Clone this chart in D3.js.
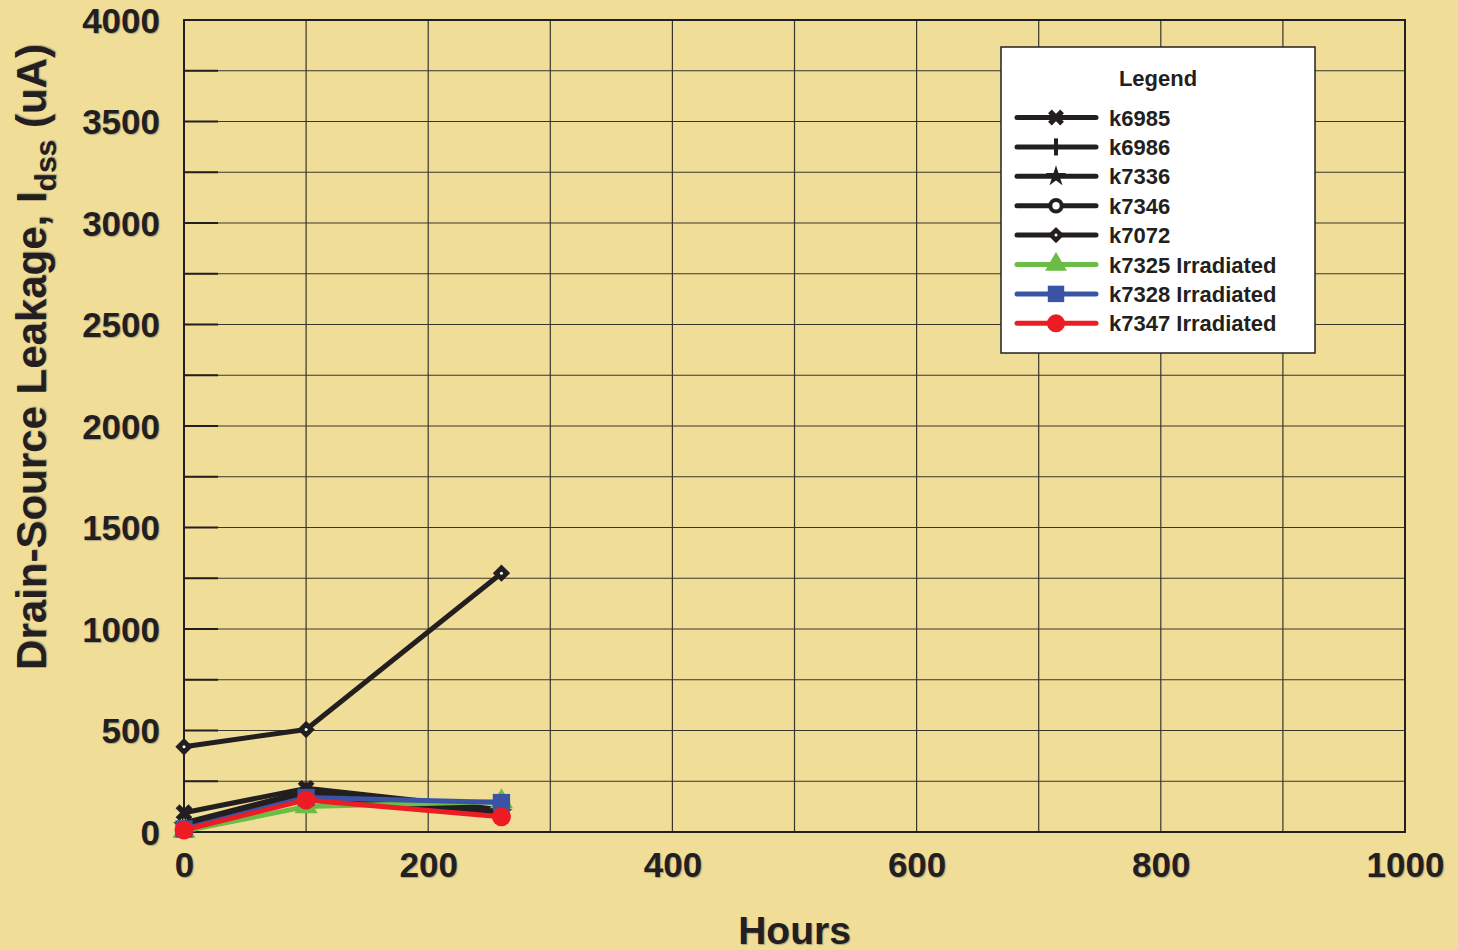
<!DOCTYPE html>
<html>
<head>
<meta charset="utf-8">
<script src="https://cdn.jsdelivr.net/npm/d3@7"></script>
<style>
  html, body { margin: 0; padding: 0; background: #F0DD98; }
  svg { display: block; font-family: "Liberation Sans", Arial, sans-serif; }
  .shadow { text-shadow: 1px 1px 1px rgba(90,90,90,0.45); }
</style>
</head>
<body>
<svg id="chart" width="1458" height="950"></svg>
<script>
// Leakage measurements, in uA, at each test point (hours)
const hours = [0, 100, 260];
const seriesNames = ["k6985", "k6986", "k7336", "k7346", "k7072",
                     "k7325 Irradiated", "k7328 Irradiated", "k7347 Irradiated"];
const k6985 = [95, 215, 110];
const k6986 = [45, 200, 100];
const k7336 = [30, 190, 95];
const k7346 = [20, 180, 90];
const k7072 = [420, 505, 1275];
const k7325 = [5, 125, 150];
const k7328 = [15, 170, 145];
const k7347 = [10, 158, 75];
const xTicks = [0, 200, 400, 600, 800, 1000];
const yTicks = [0, 500, 1000, 1500, 2000, 2500, 3000, 3500, 4000];

const seriesValues = [k6985, k6986, k7336, k7346, k7072, k7325, k7328, k7347];
const seriesColors = ["#231F20", "#231F20", "#231F20", "#231F20", "#231F20",
                      "#6ABD45", "#3A53A4", "#ED1C24"];
const seriesMarkers = ["cross", "plus", "star", "ring", "diamond", "triangle", "square", "circle"];

const svg = d3.select("#chart");
const W = 1458, H = 950;
const m = { left: 184, right: 53, top: 20, bottom: 118 };
const pw = W - m.left - m.right, ph = H - m.top - m.bottom;

svg.append("rect").attr("width", W).attr("height", H).attr("fill", "#F0DD98");

const x = d3.scaleLinear().domain([0, 1000]).range([m.left, m.left + pw]);
const y = d3.scaleLinear().domain([0, 4000]).range([m.top + ph, m.top]);

// grid
const g = svg.append("g");
g.selectAll(".vg").data(d3.range(0, 1001, 100)).join("line")
  .attr("x1", d => x(d)).attr("x2", d => x(d))
  .attr("y1", y(0)).attr("y2", y(4000))
  .attr("stroke", "#3a362c").attr("stroke-width", 1.2);
g.selectAll(".hg").data(d3.range(0, 4001, 250)).join("line")
  .attr("x1", x(0)).attr("x2", x(1000))
  .attr("y1", d => y(d)).attr("y2", d => y(d))
  .attr("stroke", "#3a362c").attr("stroke-width", 1.2);
// inward ticks on the value axis
g.selectAll(".yt").data(d3.range(0, 4001, 250)).join("line")
  .attr("x1", x(0)).attr("x2", x(0) + 34)
  .attr("y1", d => y(d)).attr("y2", d => y(d))
  .attr("stroke", "#231F20").attr("stroke-width", 2);

// frame
svg.append("rect").attr("x", x(0)).attr("y", y(4000))
  .attr("width", pw).attr("height", ph)
  .attr("fill", "none").attr("stroke", "#231F20").attr("stroke-width", 2);

// axes (labels only; lines drawn by the grid and frame)
const fmt = d3.format("d");
const yAxis = svg.append("g").attr("transform", `translate(${x(0)},0)`)
  .call(d3.axisLeft(y).tickValues(yTicks).tickFormat(fmt).tickSize(0).tickPadding(24));
yAxis.select(".domain").remove();
yAxis.selectAll("text").attr("class", "shadow")
  .attr("font-size", 35).attr("font-weight", "bold").attr("fill", "#231F20")
  .attr("font-family", "Liberation Sans, Arial, sans-serif").attr("dy", "0.35em");

const xAxis = svg.append("g").attr("transform", `translate(0,${y(0)})`)
  .call(d3.axisBottom(x).tickValues(xTicks).tickFormat(fmt).tickSize(0).tickPadding(20));
xAxis.select(".domain").remove();
xAxis.selectAll("text").attr("class", "shadow")
  .attr("font-size", 35).attr("font-weight", "bold").attr("fill", "#231F20")
  .attr("font-family", "Liberation Sans, Arial, sans-serif");

// axis titles
svg.append("text").attr("class", "shadow")
  .attr("x", x(500)).attr("y", 944).attr("text-anchor", "middle")
  .attr("font-size", 39).attr("font-weight", "bold").attr("fill", "#231F20")
  .text("Hours");

const yt = svg.append("text").attr("class", "shadow")
  .attr("transform", `translate(46,357) rotate(-90)`)
  .attr("text-anchor", "middle")
  .attr("font-size", 42).attr("font-weight", "bold").attr("fill", "#231F20");
yt.append("tspan").text("Drain-Source Leakage, I");
yt.append("tspan").attr("font-size", 30).attr("dy", 10).text("dss");
yt.append("tspan").attr("dy", -10).text(" (uA)");

// marker drawing
function drawMarker(sel, kind, color, s) {
  switch (kind) {
    case "cross":
      sel.append("path").attr("d", d3.symbol(d3.symbolX, 110 * s)())
        .attr("stroke", color).attr("stroke-width", 5.5 * Math.sqrt(s)).attr("fill", "none");
      break;
    case "plus":
      sel.append("path").attr("d", `M0,${-9 * Math.sqrt(s)}V${9 * Math.sqrt(s)}`)
        .attr("stroke", color).attr("stroke-width", 4);
      break;
    case "star":
      sel.append("path").attr("d", d3.symbol(d3.symbolStar, 150 * s)()).attr("fill", color);
      break;
    case "ring":
      sel.append("circle").attr("r", 6 * Math.sqrt(s)).attr("fill", "#fff")
        .attr("stroke", color).attr("stroke-width", 4);
      break;
    case "diamond":
      sel.append("path").attr("d", d3.symbol(d3.symbolSquare, 150 * s)())
        .attr("transform", "rotate(45)").attr("fill", color);
      sel.append("circle").attr("r", 1.5).attr("fill", "#fff");
      break;
    case "triangle":
      sel.append("path").attr("d", d3.symbol(d3.symbolTriangle, 230 * s)()).attr("fill", color);
      break;
    case "square":
      sel.append("path").attr("d", d3.symbol(d3.symbolSquare, 300 * s)()).attr("fill", color);
      break;
    case "circle":
      sel.append("circle").attr("r", 9.5 * Math.sqrt(s)).attr("fill", color);
      break;
  }
}

// series
const line = d3.line().x((d, i) => x(hours[i])).y(d => y(d));
const order = [4, 0, 1, 2, 3, 5, 6, 7];
order.forEach(k => {
  const sg = svg.append("g");
  sg.append("path").datum(seriesValues[k]).attr("d", line)
    .attr("fill", "none").attr("stroke", seriesColors[k]).attr("stroke-width", 5)
    .attr("stroke-linejoin", "round");
  seriesValues[k].forEach((v, i) => {
    const mg = sg.append("g").attr("transform", `translate(${x(hours[i])},${y(v)})`);
    drawMarker(mg, seriesMarkers[k], seriesColors[k], 1);
  });
});

// legend
const lg = svg.append("g").attr("transform", "translate(1001,47)");
lg.append("rect").attr("width", 314).attr("height", 306)
  .attr("fill", "#fff").attr("stroke", "#231F20").attr("stroke-width", 1.5);
lg.append("text").attr("x", 157).attr("y", 39).attr("text-anchor", "middle")
  .attr("font-size", 22).attr("font-weight", "bold").attr("fill", "#231F20").text("Legend");
seriesNames.forEach((name, k) => {
  const yy = 70.5 + k * 29.4;
  const row = lg.append("g").attr("transform", `translate(0,${yy})`);
  row.append("line").attr("x1", 16).attr("x2", 95).attr("y1", 0).attr("y2", 0)
    .attr("stroke", seriesColors[k]).attr("stroke-width", 5).attr("stroke-linecap", "round");
  const mg = row.append("g").attr("transform", "translate(55,0)");
  drawMarker(mg, seriesMarkers[k], seriesColors[k], 0.9);
  row.append("text").attr("x", 108).attr("y", 8)
    .attr("font-size", 22).attr("font-weight", "bold").attr("fill", "#231F20").text(name);
});
</script>
</body>
</html>
